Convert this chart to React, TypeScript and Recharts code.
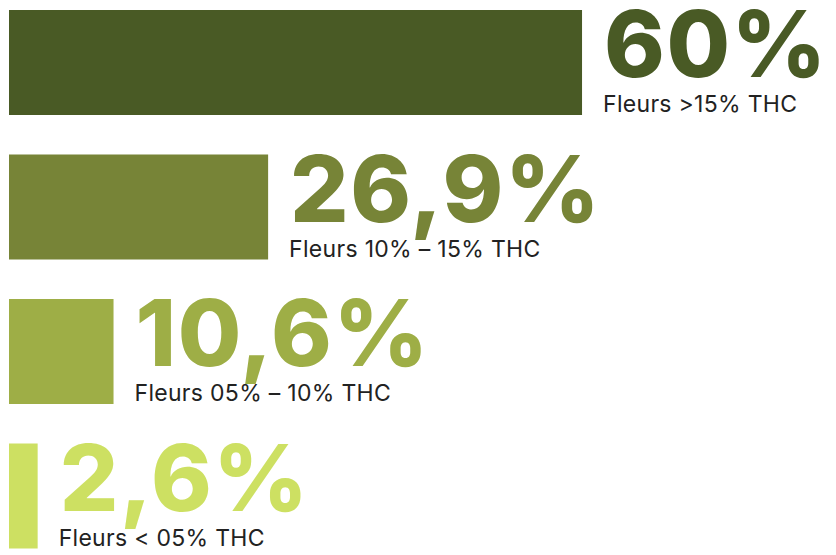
import { BarChart, Bar, XAxis, YAxis, Cell, LabelList, Rectangle } from 'recharts';

const categories = ['Fleurs >15% THC', 'Fleurs 10% – 15% THC', 'Fleurs 05% – 10% THC', 'Fleurs < 05% THC'];
const shares = [60, 26.9, 10.6, 2.6];
const colors = ['#495a25', '#778437', '#9eae46', '#cde062'];

const data = categories.map((name, i) => ({ name, value: shares[i] }));

const formatPct = (v: number) => `${String(v).replace('.', ',')}%`;

// bars in the original have a small fixed lip past the value
const LIP = 4;

const BarShape = (props: any) => <Rectangle {...props} width={props.width + LIP} />;

const renderLabel = (props: any) => {
  const { x, y, width, value, index } = props;
  const left = x + width + LIP + 22;
  return (
    <g>
      <text
        x={left}
        y={y + 67}
        fill={colors[index]}
        fontFamily="Inter, 'Noto Sans', sans-serif"
        fontWeight={800}
        fontSize={92}
        letterSpacing={1.5}
      >
        {formatPct(value)}
      </text>
      <text
        x={left - 1}
        y={y + 102}
        fill="#222"
        fontFamily="Inter, 'Noto Sans', sans-serif"
        fontSize={23}
        letterSpacing={0.3}
      >
        {categories[index]}
      </text>
    </g>
  );
};

export default function App() {
  return (
    <div style={{ position: 'absolute', top: 0, left: 0, width: 836, height: 555, overflow: 'hidden', background: '#fff' }}>
      <div style={{ marginTop: -10 }}>
        <BarChart
          width={836}
          height={578}
          data={data}
          layout="vertical"
          margin={{ top: 0, right: 0, bottom: 0, left: 9 }}
          barSize={105}
        >
          <XAxis type="number" hide domain={[0, 87.2]} />
          <YAxis type="category" dataKey="name" hide />
          <Bar dataKey="value" isAnimationActive={false} shape={BarShape}>
            {data.map((_, i) => (
              <Cell key={i} fill={colors[i]} />
            ))}
            <LabelList dataKey="value" content={renderLabel} />
          </Bar>
        </BarChart>
      </div>
    </div>
  );
}
